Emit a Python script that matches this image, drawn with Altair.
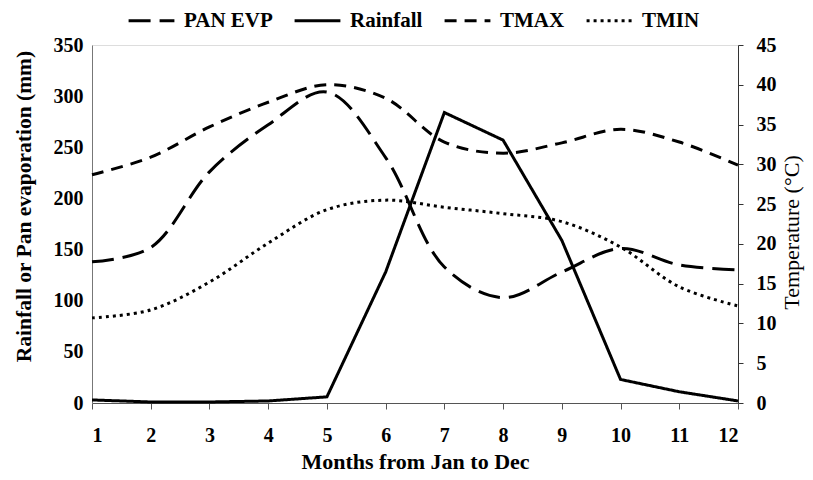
import altair as alt
import pandas as pd

months = list(range(1, 13))
series_names = ["PAN EVP", "Rainfall", "TMAX", "TMIN"]
pan_evp = [138, 152, 226, 272, 304, 240, 133, 103, 128, 151, 135, 130]
rainfall = [3, 1, 1, 2, 6, 128, 284, 257, 159, 23, 11, 2]
tmax = [28.7, 30.9, 34.7, 37.8, 40.0, 38.3, 32.8, 31.4, 32.7, 34.4, 32.8, 29.9]
tmin = [10.7, 11.7, 15.2, 20.1, 24.3, 25.5, 24.6, 23.8, 22.8, 19.6, 14.6, 12.2]
left_ticks = [0, 50, 100, 150, 200, 250, 300, 350]
right_ticks = [0, 5, 10, 15, 20, 25, 30, 35, 40, 45]

def frame(name, vals):
    return pd.DataFrame({"month": months, "value": vals, "series": name})

df_pan = frame("PAN EVP", pan_evp)
df_rain = frame("Rainfall", rainfall)
df_tmax = frame("TMAX", tmax)
df_tmin = frame("TMIN", tmin)

FONT = "Liberation Serif"
dash = alt.StrokeDash(
    "series:N",
    scale=alt.Scale(domain=series_names,
                    range=[[22, 9], [1, 0], [12, 8], [3, 4]]),
    legend=alt.Legend(
        title=None, orient="none", direction="horizontal",
        legendX=35, legendY=-49, padding=0,
        symbolType="stroke", symbolSize=2100, symbolStrokeWidth=3,
        symbolStrokeColor="black",
        labelFont=FONT, labelFontSize=21, labelFontWeight="bold",
        labelColor="black", columnPadding=15, labelOffset=8,
    ),
)

x_enc = alt.X("month:Q",
              scale=alt.Scale(domain=[1, 12], nice=False, zero=False),
              axis=alt.Axis(title="Months from Jan to Dec", values=months,
                            format="d", grid=False, tickSize=6,
                            labelPadding=16, titlePadding=6,
                            domainColor="#555", tickColor="#555",
                            labelFont=FONT, labelFontSize=20,
                            labelFontWeight="bold", labelColor="black",
                            titleFont=FONT, titleFontSize=22,
                            titleFontWeight="bold", titleColor="black"))

y_left = alt.Y("value:Q",
               scale=alt.Scale(domain=[0, 350], nice=False),
               axis=alt.Axis(title="Rainfall or Pan evaporation (mm)",
                             values=left_ticks, grid=False, ticks=False,
                             labelPadding=9, titlePadding=18, titleY=161,
                             domainColor="#777",
                             labelFont=FONT, labelFontSize=20,
                             labelFontWeight="bold", labelColor="black",
                             titleFont=FONT, titleFontSize=21.5,
                             titleFontWeight="bold", titleColor="black"))

y_right = alt.Y("value:Q",
                scale=alt.Scale(domain=[0, 45], nice=False),
                axis=alt.Axis(title="Temperature (°C)", orient="right",
                              values=right_ticks, grid=False, tickSize=5,
                              labelPadding=13, titlePadding=5, titleY=187,
                              titleAngle=270, titleBaseline="top",
                              domainColor="#333", tickColor="#333",
                              labelFont=FONT, labelFontSize=20,
                              labelFontWeight="bold", labelColor="black",
                              titleFont=FONT, titleFontSize=22,
                              titleFontWeight="normal", titleColor="black"))

pan = alt.Chart(df_pan).mark_line(color="black", strokeWidth=3,
                                  interpolate="catmull-rom").encode(
    x=x_enc, y=y_left, strokeDash=dash)
rain = alt.Chart(df_rain).mark_line(color="black", strokeWidth=3).encode(
    x=x_enc, y=y_left, strokeDash=dash)
tmx = alt.Chart(df_tmax).mark_line(color="black", strokeWidth=3,
                                   interpolate="catmull-rom").encode(
    x=x_enc, y=y_right, strokeDash=dash)
tmn = alt.Chart(df_tmin).mark_line(color="black", strokeWidth=3,
                                   interpolate="catmull-rom").encode(
    x=x_enc, y=y_right, strokeDash=dash)

left = alt.layer(pan, rain)
right = alt.layer(tmx, tmn)

chart = alt.layer(left, right).resolve_scale(y="independent").properties(
    width=646, height=358,
    autosize=alt.AutoSizeParams(type="none"),
    padding={"left": 84, "top": 37, "right": 67, "bottom": 69},
).configure_view(stroke=None).configure(background="white")

chart.save("out.html", embed_options={"renderer": "svg", "actions": False})
